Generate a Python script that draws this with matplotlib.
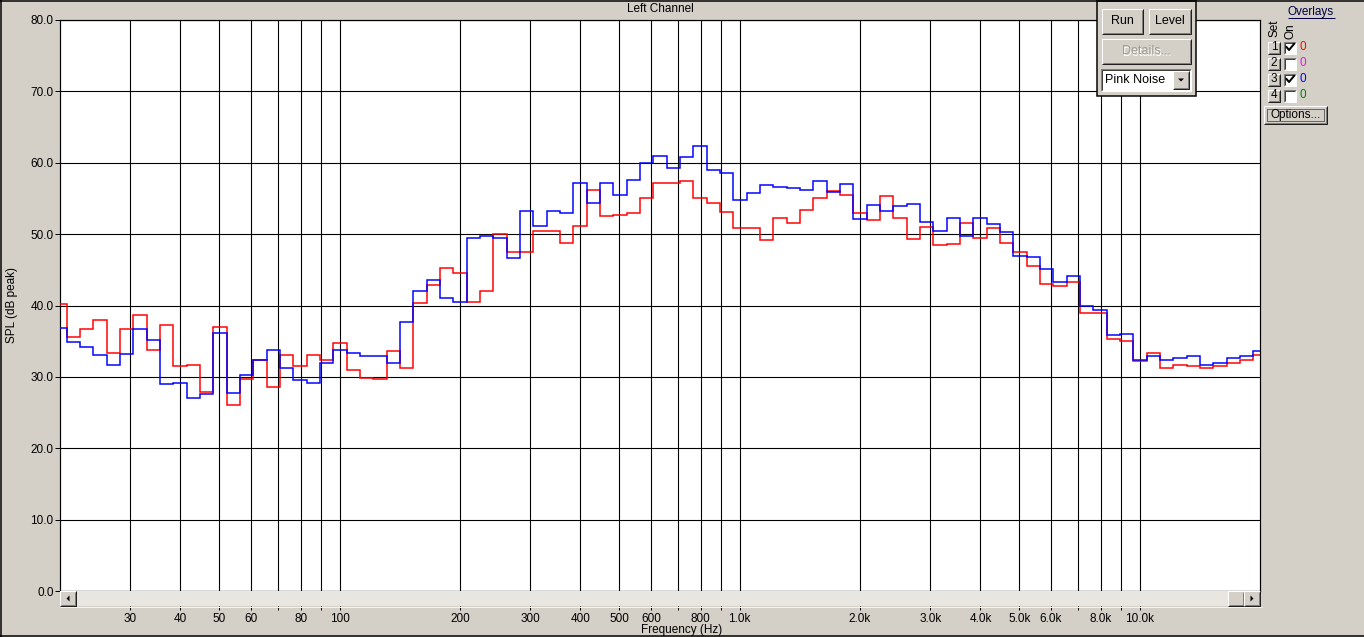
import numpy as np
import matplotlib
matplotlib.use("Agg")
import matplotlib.pyplot as plt
from matplotlib.patches import Rectangle, Polygon
from matplotlib.ticker import NullLocator

plt.rcParams["font.family"] = ["Liberation Sans", "DejaVu Sans"]

# =============================================================================
# DATA  (1/30-decade RTA bands, 20 Hz .. 20 kHz)
# =============================================================================

F_START = 20.0
BANDS_PER_DECADE = 30
N_BANDS = 91

RED_DB = [
    40.2, 35.6, 36.7, 37.9, 33.4, 36.7, 38.6, 33.8, 37.2, 31.5,
    31.7, 27.9, 37.0, 26.1, 29.7, 32.4, 28.6, 33.0, 31.5, 33.1,
    32.3, 34.7, 30.9, 29.9, 29.7, 33.6, 31.3, 40.4, 42.9, 45.2,
    44.5, 40.5, 42.1, 50.0, 47.5, 47.5, 50.5, 50.5, 48.7, 51.2,
    56.2, 52.6, 52.7, 52.9, 55.1, 57.2, 57.1, 57.5, 55.0, 54.3,
    53.1, 50.9, 50.8, 49.2, 52.2, 51.5, 53.4, 55.0, 56.1, 55.5,
    52.9, 52.0, 55.3, 52.2, 49.3, 51.0, 48.5, 48.6, 51.6, 49.4,
    50.8, 48.7, 47.5, 45.6, 43.0, 42.8, 43.3, 38.9, 39.0, 35.3,
    35.0, 32.2, 33.4, 31.2, 31.7, 31.5, 31.3, 31.5, 31.9, 32.4,
    33.1,
]

BLUE_DB = [
    36.9, 34.9, 34.2, 33.1, 31.7, 33.2, 36.7, 35.2, 29.0, 29.2,
    27.0, 27.6, 36.2, 27.8, 30.3, 32.4, 33.8, 31.3, 29.5, 29.1,
    31.9, 33.8, 33.4, 32.9, 32.9, 31.9, 37.7, 42.1, 43.6, 41.1,
    40.5, 49.4, 49.8, 49.4, 46.7, 53.3, 51.2, 53.3, 52.9, 57.1,
    54.4, 57.2, 55.5, 57.6, 59.9, 61.0, 59.2, 60.8, 62.4, 59.0,
    58.6, 54.8, 55.8, 56.9, 56.6, 56.5, 56.2, 57.5, 55.9, 57.0,
    52.1, 54.1, 53.2, 53.9, 54.2, 51.7, 50.4, 52.2, 49.7, 52.2,
    51.4, 50.3, 46.9, 46.8, 45.1, 43.3, 44.1, 39.9, 39.3, 35.8,
    36.0, 32.3, 32.9, 32.3, 32.6, 32.9, 31.7, 31.9, 32.6, 32.9,
    33.6,
]

GRID_FREQS = [30, 40, 50, 60, 70, 80, 90, 100, 200, 300, 400, 500, 600, 700,
              800, 900, 1000, 2000, 3000, 4000, 5000, 6000, 7000, 8000, 9000,
              10000]
TICK_LABELS = ["30", "40", "50", "60", "", "80", "", "100", "200", "300",
               "400", "500", "600", "", "800", "", "1.0k", "2.0k", "3.0k",
               "4.0k", "5.0k", "6.0k", "", "8.0k", "", "10.0k"]
DB_TICKS = [0, 10, 20, 30, 40, 50, 60, 70, 80]

OVERLAY_SETS = ["1", "2", "3", "4"]
OVERLAY_ON = [True, False, True, False]
OVERLAY_COLORS = ["#FF0000", "#FF00FF", "#0000FF", "#008000"]

# =============================================================================
# STYLE
# =============================================================================

W, H = 1364, 637
DPI = 100
PX = 72.0 / DPI
FACE = "#D4D0C8"
FS = 8.5


def box(x0, y0, x1, y1):
    return [x0 / W, 1 - y1 / H, (x1 - x0) / W, (y1 - y0) / H]


fig = plt.figure(figsize=(W / DPI, H / DPI), dpi=DPI, facecolor=FACE)

# --- main plot ---------------------------------------------------------------
ax = fig.add_axes(box(60, 20, 1260, 591))
k = np.arange(N_BANDS)
centers = F_START * 10 ** (k / BANDS_PER_DECADE)
edges = np.concatenate([centers * 10 ** (-0.5 / BANDS_PER_DECADE),
                        centers[-1:] * 10 ** (0.5 / BANDS_PER_DECADE)])

ax.stairs(RED_DB, edges, baseline=None, color="#FF0000", lw=1.5 * PX, zorder=3)
ax.stairs(BLUE_DB, edges, baseline=None, color="#0000FF", lw=1.5 * PX, zorder=4)

ax.set_xscale("log")
ax.set_xlim(20, 20000)
ax.set_ylim(0, 80)
ax.set_xticks(GRID_FREQS)
ax.set_xticklabels([])
ax.xaxis.set_minor_locator(NullLocator())
ax.tick_params(axis="x", length=0)
ax.set_yticks(DB_TICKS)
ax.set_yticklabels([f"{v:.1f}" for v in DB_TICKS])
ax.tick_params(axis="y", direction="out", length=5 * PX, width=PX,
               labelsize=FS, pad=1)
ax.grid(True, color="black", lw=1.1 * PX, zorder=1)
ax.set_axisbelow(True)
for sp in ax.spines.values():
    sp.set_color("black")
    sp.set_linewidth(1.2 * PX)

# --- scrollbar strip, carries the frequency labels ---------------------------
sax = fig.add_axes(box(60, 591, 1260, 606), facecolor="#E8E6E1")
sax.set_xscale("log")
sax.set_xlim(20, 20000)
sax.set_ylim(0, 1)
sax.set_yticks([])
sax.set_xticks(GRID_FREQS)
sax.set_xticklabels(TICK_LABELS)
sax.xaxis.set_minor_locator(NullLocator())
sax.tick_params(axis="x", direction="out", length=4 * PX, width=PX,
                labelsize=FS, pad=2)
for sp in sax.spines.values():
    sp.set_visible(False)

# --- overlay in pixel coordinates for window chrome --------------------------
ov = fig.add_axes([0, 0, 1, 1], zorder=10)
ov.set_xlim(0, W)
ov.set_ylim(H, 0)
ov.axis("off")
ov.patch.set_alpha(0)


def line(xs, ys, color, lw=1.0):
    ov.plot(xs, ys, color=color, lw=lw * PX, solid_capstyle="butt")


def bevel(x0, y0, x1, y1, raised=True):
    if raised:
        line([x0, x0, x1], [y1, y0, y0], "white")
        line([x0 + 1, x1 - 1, x1 - 1], [y1 - 1, y1 - 1, y0 + 1], "#808080")
        line([x0, x1, x1], [y1, y1, y0], "#202020")
    else:
        line([x0, x0, x1], [y1, y0, y0], "#808080")
        line([x0 + 1, x0 + 1, x1 - 1], [y1 - 1, y0 + 1, y0 + 1], "#404040")
        line([x0, x1, x1], [y1, y1, y0], "white")


def button(x0, y0, x1, y1, label="", color="black", disabled=False, fs=FS):
    ov.add_patch(Rectangle((x0, y0), x1 - x0, y1 - y0, fc=FACE, ec="none"))
    bevel(x0, y0, x1, y1)
    if not label:
        return
    cx, cy = (x0 + x1) / 2, (y0 + y1) / 2
    if disabled:
        ov.text(cx + 1, cy + 1, label, ha="center", va="center", fontsize=fs,
                color="white")
        color = "#A09C94"
    ov.text(cx, cy, label, ha="center", va="center", fontsize=fs, color=color)


def triangle(cx, cy, direction, s=3):
    if direction == "left":
        pts = [(cx + s / 2, cy - s), (cx + s / 2, cy + s), (cx - s / 2, cy)]
    elif direction == "right":
        pts = [(cx - s / 2, cy - s), (cx - s / 2, cy + s), (cx + s / 2, cy)]
    else:
        pts = [(cx - s, cy - s / 2), (cx + s, cy - s / 2), (cx, cy + s / 2)]
    ov.add_patch(Polygon(pts, closed=True, fc="black", ec="none"))


# labels around the plot
ov.text(660, 9, "Left Channel", ha="center", va="center", fontsize=FS)
ov.text(12, 305, "SPL (dB peak)", ha="center", va="center", rotation=90,
        fontsize=FS)
ov.text(682, 630, "Frequency (Hz)", ha="center", va="center", fontsize=FS)

# scrollbar buttons
button(60, 591, 76, 606)
triangle(68, 598.5, "left")
button(1228, 591, 1244, 606)
button(1244, 591, 1260, 606)
triangle(1252, 598.5, "right")
line([60, 1262], [607, 607], "#F4F3F0")

# outer frame
line([0.5, 0.5], [0, H], "black", 1.5)
line([0, W], [0.5, 0.5], "black", 1.5)
line([0, W], [636, 636], "black", 1.5)

# floating control window
ov.add_patch(Rectangle((1097, -2), 99, 98, fc=FACE, ec="black", lw=1.5 * PX))
ov.add_patch(Rectangle((1097, -2), 99, 4, fc="#303030", ec="none"))
button(1102, 9, 1143, 34, "Run", fs=9)
button(1149, 9, 1191, 34, "Level", fs=9)
button(1102, 39, 1191, 64, "Details...", disabled=True, fs=9)
ov.add_patch(Rectangle((1101, 69), 90, 22, fc="white", ec="none"))
bevel(1101, 69, 1191, 91, raised=False)
ov.text(1105, 80, "Pink Noise", ha="left", va="center", fontsize=9)
button(1173, 71, 1189, 89)
triangle(1181, 80, "down")

# overlays panel
ov.text(1311, 12, "Overlays", ha="center", va="center", fontsize=FS,
        color="#000040")
line([1288, 1335], [18, 18], "#000040")
ov.text(1274, 28, "Set", ha="center", va="center", rotation=90, fontsize=FS)
ov.text(1290, 31, "On", ha="center", va="center", rotation=90, fontsize=FS)

for i, (lab, on, col) in enumerate(zip(OVERLAY_SETS, OVERLAY_ON,
                                       OVERLAY_COLORS)):
    yc = 47.5 + 16 * i
    button(1268, yc - 6, 1280, yc + 6, lab)
    ov.add_patch(Rectangle((1284, yc - 6), 12, 12, fc="white", ec="none"))
    bevel(1284, yc - 6, 1296, yc + 6, raised=False)
    if on:
        ov.plot([1286.5, 1289, 1294], [yc - 0.5, yc + 2.5, yc - 3.5],
                color="black", lw=2 * PX)
    ov.text(1303, yc, "0", ha="center", va="center", fontsize=FS, color=col)

button(1264, 106, 1327, 124, "Options...")
ov.add_patch(Rectangle((1267, 109), 57, 12, fc="none", ec="black",
                       lw=PX, ls=(0, (1, 1))))

fig.savefig("out.png", dpi=DPI, facecolor=FACE)
